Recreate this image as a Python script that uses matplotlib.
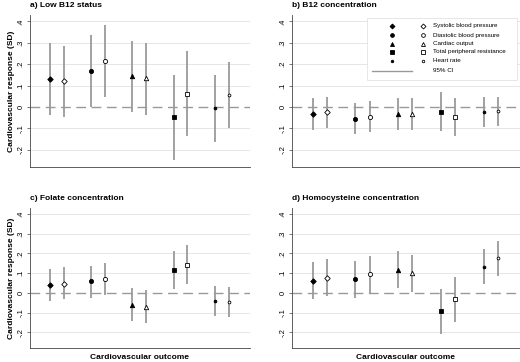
import matplotlib
matplotlib.use("Agg")
import matplotlib.pyplot as plt
from matplotlib.patches import Rectangle

plt.rcParams["font.family"] = ["Liberation Sans", "DejaVu Sans"]

# outcomes, each shown twice: filled marker then open marker
outcomes = ["Systolic blood pressure", "Diastolic blood pressure", "Cardiac output",
            "Total peripheral resistance", "Heart rate"]
xpos = [1, 2, 4, 5, 7, 8, 10, 11, 13, 14]

titles = ["a) Low B12 status", "b) B12 concentration",
          "c) Folate concentration", "d) Homocysteine concentration"]

est_a = [0.131, 0.122, 0.168, 0.215, 0.144, 0.134, -0.048, 0.062, -0.005, 0.057]
lo_a = [-0.036, -0.046, 0.0, 0.049, -0.025, -0.036, -0.247, -0.136, -0.161, -0.097]
hi_a = [0.297, 0.286, 0.335, 0.381, 0.31, 0.30, 0.151, 0.264, 0.148, 0.21]

est_b = [-0.032, -0.025, -0.054, -0.046, -0.032, -0.031, -0.022, -0.045, -0.025, -0.017]
lo_b = [-0.105, -0.099, -0.127, -0.117, -0.105, -0.105, -0.111, -0.133, -0.094, -0.088]
hi_b = [0.042, 0.049, 0.019, 0.028, 0.042, 0.042, 0.068, 0.042, 0.045, 0.049]

est_c = [0.039, 0.046, 0.058, 0.07, -0.06, -0.071, 0.117, 0.143, -0.041, -0.048]
lo_c = [-0.041, -0.034, -0.024, -0.012, -0.143, -0.153, 0.02, 0.044, -0.117, -0.124]
hi_c = [0.123, 0.129, 0.138, 0.151, 0.022, 0.014, 0.214, 0.24, 0.036, 0.029]

est_d = [0.06, 0.077, 0.069, 0.094, 0.117, 0.098, -0.094, -0.034, 0.13, 0.175]
lo_d = [-0.034, -0.017, -0.026, 0.0, 0.022, 0.005, -0.209, -0.149, 0.043, 0.086]
hi_d = [0.156, 0.172, 0.161, 0.189, 0.211, 0.192, 0.021, 0.079, 0.22, 0.263]

yticks = [-0.2, -0.1, 0, 0.1, 0.2, 0.3, 0.4]
yticklabels = ["-.2", "-.1", "0", ".1", ".2", ".3", ".4"]

markers = ["D", "o", "^", "s", "o"]
msizes = [2.8, 3.0, 3.2, 3.0, 2.0]
ci_color = "#9a9a9a"

W, H = 520, 362
fig = plt.figure(figsize=(W / 100, H / 100), dpi=100)

# panel boxes in pixels: left, top, right, bottom
boxes = [(30, 15, 250, 167), (292, 15, 520, 167),
         (30, 208, 250, 348), (292, 208, 520, 348)]
data = [(est_a, lo_a, hi_a), (est_b, lo_b, hi_b),
        (est_c, lo_c, hi_c), (est_d, lo_d, hi_d)]

axes = []
for i, ((l, t, r, b), (est, lo, hi)) in enumerate(zip(boxes, data)):
    ax = fig.add_axes([l / W, 1 - b / H, (r - l) / W, (b - t) / H])
    axes.append(ax)
    for yv in yticks:
        if yv != 0:
            ax.axhline(yv, color="#e6e6e6", lw=0.7, zorder=0)
    ax.axhline(0, color="#999999", lw=1.0, dashes=(7, 4), zorder=1)
    for k in range(10):
        ax.plot([xpos[k], xpos[k]], [lo[k], hi[k]], color=ci_color, lw=1.3,
                solid_capstyle="butt", zorder=2)
        m = markers[k // 2]
        face = "black" if k % 2 == 0 else "white"
        ax.plot(xpos[k], est[k], marker=m, ms=msizes[k // 2], mfc=face,
                mec="black", mew=0.6, ls="none", zorder=3)
    ax.set_xlim(-0.45, 15.55)
    ax.set_ylim(-0.28, 0.43)
    ax.set_yticks(yticks)
    ax.set_yticklabels(yticklabels, rotation=90, va="center", fontsize=5.5)
    ax.set_xticks([])
    ax.tick_params(axis="y", length=2.5, width=0.5, pad=1.5, color="#444444")
    for s in ["top", "right"]:
        ax.spines[s].set_visible(False)
    for s in ["left", "bottom"]:
        ax.spines[s].set_linewidth(0.6)
        ax.spines[s].set_color("#444444")
    ax.text(0.0, 1.04, titles[i], transform=ax.transAxes, fontsize=6,
            fontweight="bold", ha="left", va="bottom")
    if i % 2 == 0:
        ax.set_ylabel("Cardiovascular response (SD)", fontsize=6,
                      fontweight="bold", labelpad=2)
    if i >= 2:
        ax.set_xlabel("Cardiovascular outcome", fontsize=6,
                      fontweight="bold", labelpad=4)

# legend drawn by hand inside panel b (pixel layout -> axes fraction)
axb = axes[1]
bl, bt, br, bb = boxes[1]


def fx(px):
    return (px - bl) / (br - bl)


def fy(py):
    return (bb - py) / (bb - bt)


axb.add_patch(Rectangle((fx(367), fy(80)), fx(517) - fx(367), fy(18) - fy(80),
                        transform=axb.transAxes, facecolor="white",
                        edgecolor="#dddddd", lw=0.5, zorder=5))
rows = [26, 35, 43.5, 52, 61]
for j, name in enumerate(outcomes):
    y = fy(rows[j])
    axb.plot(fx(392), y, marker=markers[j], ms=msizes[j] * 0.9, mfc="black",
             mec="black", mew=0.6, transform=axb.transAxes, zorder=6, clip_on=False)
    axb.plot(fx(423), y, marker=markers[j], ms=msizes[j] * 0.9, mfc="white",
             mec="black", mew=0.6, transform=axb.transAxes, zorder=6, clip_on=False)
    axb.text(fx(433), y, name, fontsize=4.5, va="center", ha="left",
             transform=axb.transAxes, zorder=6)
axb.plot([fx(372), fx(412)], [fy(71), fy(71)], color=ci_color, lw=1.0,
         transform=axb.transAxes, zorder=6)
axb.text(fx(433), fy(71), "95% CI", fontsize=4.5, va="center", ha="left",
         transform=axb.transAxes, zorder=6)

fig.savefig("out.png", dpi=100)
